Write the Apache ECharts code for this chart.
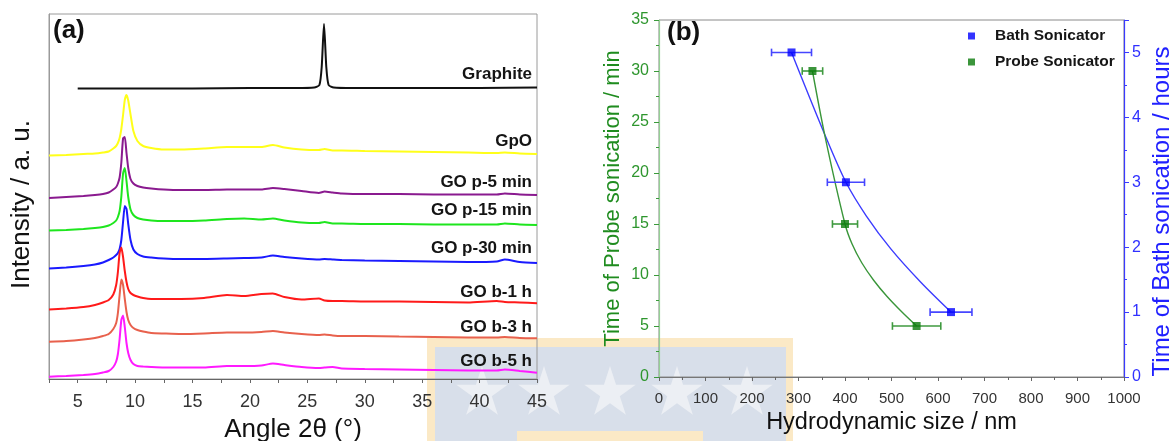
<!DOCTYPE html>
<html>
<head>
<meta charset="utf-8">
<script src="https://cdn.jsdelivr.net/npm/echarts@6/dist/echarts.min.js"></script>
<style>html,body{margin:0;padding:0;background:#fff}#c{width:1173px;height:441px}</style>
</head>
<body>
<div id="c"></div>
<script>
// ---------- Panel (a): XRD patterns (intensity in arbitrary units, stacked) ----------
const angles = [2.5, 4, 5.5, 6.5, 7.2, 7.7, 8.1, 8.35, 8.5, 8.65, 8.8, 8.95, 9.1, 9.25, 9.4, 9.6, 9.85, 10.2, 10.7, 11.4, 12.5, 14, 16, 18, 19.5, 21, 22, 23, 24.5, 26, 26.5, 27.2, 28, 30, 33, 36, 39, 41.5, 42.2, 43.5, 45];
const graphiteAngles = [5, 10, 15, 20, 24, 25.6, 26.05, 26.25, 26.45, 26.65, 26.85, 27.3, 29, 35, 40, 45];
const graphite = [290.5, 290.5, 290.5, 291, 291, 291.5, 294, 312, 355, 312, 294, 291.5, 291, 291, 291, 291.5];
const gpo  = [223.5, 224, 225, 225.5, 226.5, 227.5, 230.5, 233, 236, 241, 250, 264, 279, 284, 278.5, 264.5, 248, 238, 233, 231, 229.5, 229.5, 230.5, 232, 232, 232, 234, 231.5, 229.5, 229, 230, 228.5, 228.5, 228, 227.5, 227, 226.5, 226, 226.5, 225.5, 225];
const goP5 = [181, 182, 183, 184, 185, 186.5, 189.5, 192, 195.5, 201.5, 216.5, 240.5, 242, 226, 211, 200, 195.5, 193, 191.5, 190.5, 189.5, 189, 189, 189.5, 189.5, 189.5, 191, 190, 188, 186, 187.5, 186.5, 185.5, 185, 185, 184.5, 184.5, 184.5, 185.5, 184.5, 184];
const goP15 = [148.5, 149, 150, 151, 152, 153.5, 156, 158.5, 162, 168, 182.5, 205.5, 211, 198, 182, 169.5, 164, 161, 159.5, 158.5, 158, 158, 158.5, 160, 160.5, 159.5, 160.5, 158.5, 156.5, 156, 157, 155.5, 155.5, 155, 155, 154.5, 154.5, 154.5, 155.5, 154.5, 154];
const goP30 = [110.5, 111.5, 113, 114.5, 116.5, 119, 121.5, 124, 126, 130, 139, 157, 173, 170, 155, 139, 129.5, 125, 122.5, 121.5, 120.5, 120, 120, 120.5, 121, 121.5, 123.5, 122, 120.5, 119.5, 120, 119.5, 119, 118.5, 118, 117.5, 117, 117.5, 119.5, 117, 116];
const goB1 = [69.5, 70.5, 72, 74, 76.5, 79, 84.5, 94, 107, 126, 131.5, 122, 108, 97, 90, 86, 84, 82.5, 81, 80, 80, 80, 81, 84, 83, 85, 85.5, 82, 79.5, 80.5, 78.5, 78, 78, 77.5, 77.5, 77, 76.5, 78, 77, 76.5, 75.7];
const goB3 = [37.3, 38, 39.5, 41, 43, 45, 50, 56, 66, 84, 99.6, 94, 80, 67, 59, 54, 51, 49, 47.5, 46, 45.5, 45, 45.5, 46.5, 46.5, 47, 48, 46.5, 45, 44, 44.5, 43.5, 43, 43, 42.5, 42, 41.5, 41.5, 42, 41, 40.7];
const goB5 = [2.3, 3, 4, 5, 6.5, 8, 12, 17.5, 25, 40, 59, 63.5, 52, 36, 26, 19, 15, 13, 12.5, 12, 11.5, 11.5, 11.5, 13, 13, 13.5, 15.5, 14, 12, 11, 11.5, 12, 10.5, 10, 9.5, 9, 8.5, 8.5, 9.5, 8, 6.3];
const xrdNames = ['Graphite', 'GpO', 'GO p-5 min', 'GO p-15 min', 'GO p-30 min', 'GO b-1 h', 'GO b-3 h', 'GO b-5 h'];

// ---------- Panel (b): hydrodynamic size vs sonication time ----------
const bathSize = [285, 402, 628];
const bathHours = [5, 3, 1];
const bathErr = [43, 40, 45];
const probeSize = [330, 400, 554];
const probeMin = [30, 15, 5];
const probeErr = [22, 27, 52];
// fitted curves
const bathFitSize = [285, 358, 402, 446, 499, 563, 628];
const bathFitHours = [5, 3.71, 3, 2.48, 1.97, 1.46, 1];
const probeFitSize = [330, 357, 400, 415, 436, 462, 490, 523, 554];
const probeFitMin = [30, 23.6, 15, 13.06, 11.2, 9.46, 7.92, 6.35, 5];

// ---------- styles ----------
const FONT = 'Arial, "Liberation Sans", sans-serif';
const xrdStyle = [
  {color: '#111111', dy: -13.5},
  {color: '#ffff1a', dy: -12.5},
  {color: '#8a1a8f', dy: -13},
  {color: '#1ee61e', dy: -14.5},
  {color: '#1a1aff', dy: -15},
  {color: '#ff1a1a', dy: -10.5},
  {color: '#e8614d', dy: -11},
  {color: '#ff1aff', dy: -11}
];

const xrdData = [
  graphiteAngles.map((a, j) => [a, graphite[j]]),
  angles.map((a, j) => [a, gpo[j]]),
  angles.map((a, j) => [a, goP5[j]]),
  angles.map((a, j) => [a, goP15[j]]),
  angles.map((a, j) => [a, goP30[j]]),
  angles.map((a, j) => [a, goB1[j]]),
  angles.map((a, j) => [a, goB3[j]]),
  angles.map((a, j) => [a, goB5[j]])
];

const series = [];
xrdData.forEach((d, i) => {
  series.push({
    type: 'line', name: xrdNames[i], xAxisIndex: 0, yAxisIndex: 0,
    data: d, symbol: 'none', smooth: 0.2, silent: true, z: 3,
    lineStyle: {color: xrdStyle[i].color, width: 2}
  });
});
// curve labels, anchored at the end of each curve
series.push({
  type: 'custom', xAxisIndex: 0, yAxisIndex: 0, silent: true, z: 5,
  data: xrdData.map((d, i) => [d[d.length - 1][0], d[d.length - 1][1], i]),
  renderItem: function (params, api) {
    const i = api.value(2);
    const p = api.coord([api.value(0), api.value(1)]);
    return {type: 'text', x: p[0] - 5, y: p[1] + xrdStyle[i].dy,
      style: {text: xrdNames[i], align: 'right', verticalAlign: 'middle',
        fontSize: 17, fontWeight: 'bold', fontFamily: FONT, fill: '#141414'}};
  }
});

function errorBars(sizes, vals, errs, yIdx, color) {
  return {
    type: 'custom', xAxisIndex: 1, yAxisIndex: yIdx, silent: true, z: 4,
    data: sizes.map((s, i) => [s, vals[i], errs[i]]),
    renderItem: function (params, api) {
      const x = api.value(0), y = api.value(1), e = api.value(2);
      const a = api.coord([x - e, y]), b = api.coord([x + e, y]);
      const st = {stroke: color, lineWidth: 1.6};
      const cap = 3.8;
      return {type: 'group', children: [
        {type: 'line', shape: {x1: a[0], y1: a[1], x2: b[0], y2: b[1]}, style: st},
        {type: 'line', shape: {x1: a[0], y1: a[1] - cap, x2: a[0], y2: a[1] + cap}, style: st},
        {type: 'line', shape: {x1: b[0], y1: b[1] - cap, x2: b[0], y2: b[1] + cap}, style: st}
      ]};
    }
  };
}
series.push({
  type: 'line', name: 'Bath fit', xAxisIndex: 1, yAxisIndex: 2, symbol: 'none', smooth: 0.3, silent: true, z: 3,
  data: bathFitSize.map((s, i) => [s, bathFitHours[i]]), lineStyle: {color: '#3c3cff', width: 1.4}
});
series.push({
  type: 'line', name: 'Probe fit', xAxisIndex: 1, yAxisIndex: 1, symbol: 'none', smooth: 0.3, silent: true, z: 3,
  data: probeFitSize.map((s, i) => [s, probeFitMin[i]]), lineStyle: {color: '#3a963a', width: 1.4}
});
series.push(errorBars(bathSize, bathHours, bathErr, 2, '#4646ff'));
series.push(errorBars(probeSize, probeMin, probeErr, 1, '#3f9a3f'));
series.push({
  type: 'scatter', name: 'Bath Sonicator', xAxisIndex: 1, yAxisIndex: 2, symbol: 'rect', symbolSize: 8, z: 6,
  data: bathSize.map((s, i) => [s, bathHours[i]]), itemStyle: {color: '#0000ff'}
});
series.push({
  type: 'scatter', name: 'Probe Sonicator', xAxisIndex: 1, yAxisIndex: 1, symbol: 'rect', symbolSize: 8, z: 6,
  data: probeSize.map((s, i) => [s, probeMin[i]]), itemStyle: {color: '#0a7a0a'}
});

// faint background watermark
function star(cx, cy, R) {
  const pts = [];
  for (let k = 0; k < 10; k++) {
    const ang = -Math.PI / 2 + k * Math.PI / 5;
    const r = k % 2 === 0 ? R : R * 0.382;
    pts.push([cx + r * Math.cos(ang), cy + r * Math.sin(ang)]);
  }
  return {type: 'polygon', z: -10, silent: true, shape: {points: pts}, style: {fill: '#eceff4'}};
}
const graphic = [
  {type: 'rect', z: -12, silent: true, shape: {x: 427, y: 338, width: 366, height: 103}, style: {fill: '#fbe9c6'}},
  {type: 'rect', z: -11, silent: true, shape: {x: 435, y: 347, width: 351, height: 94}, style: {fill: '#d8dfea'}},
  {type: 'rect', z: -11, silent: true, shape: {x: 517, y: 431, width: 186, height: 10}, style: {fill: '#fbe9c6'}},
  star(482, 393, 27), star(544, 393, 27), star(610, 393, 27), star(677, 393, 27), star(747, 393, 27)
];

const chart = echarts.init(document.getElementById('c'), null, {renderer: 'canvas'});
chart.setOption({
  animation: false,
  backgroundColor: '#ffffff',
  textStyle: {fontFamily: FONT},
  graphic: graphic,
  title: [
    {text: '(a)', left: 53, top: 18, padding: 0, textStyle: {fontSize: 26, fontWeight: 'bold', color: '#111', fontFamily: FONT}},
    {text: '(b)', left: 667, top: 20, padding: 0, textStyle: {fontSize: 26, fontWeight: 'bold', color: '#111', fontFamily: FONT}}
  ],
  legend: {
    data: ['Bath Sonicator', 'Probe Sonicator'], orient: 'vertical', left: 968, top: 28,
    itemWidth: 7, itemHeight: 7, itemGap: 10, icon: 'rect', selectedMode: false, padding: 0,
    textStyle: {fontSize: 15.5, fontWeight: 'bold', color: '#151515', fontFamily: FONT, padding: [0, 0, 0, 15]}
  },
  grid: [
    {left: 49, right: 636, top: 14, bottom: 62, show: true, borderColor: '#9a9a9a', borderWidth: 1, backgroundColor: 'transparent', outerBoundsMode: 'none', containLabel: false},
    {left: 659, right: 49, top: 20, bottom: 64, show: true, borderColor: '#8a8a8a', borderWidth: 1, backgroundColor: 'transparent', outerBoundsMode: 'none', containLabel: false}
  ],
  xAxis: [
    {
      gridIndex: 0, type: 'value', min: 2.5, max: 45, interval: 2.5,
      axisLine: {show: true, lineStyle: {color: '#666', width: 1}},
      axisTick: {show: true, inside: false, length: 4, lineStyle: {color: '#666'}},
      axisLabel: {fontSize: 18, color: '#333', margin: 14, formatter: v => (v % 5 === 0 ? String(v) : '')},
      splitLine: {show: false},
      name: 'Angle 2θ (°)', nameLocation: 'middle', nameGap: 38,
      nameTextStyle: {fontSize: 26, color: '#111', fontFamily: FONT}
    },
    {
      gridIndex: 1, type: 'value', min: 0, max: 1000, interval: 100,
      axisLine: {show: true, lineStyle: {color: '#777', width: 1.2}},
      axisTick: {show: true, inside: false, length: 4, lineStyle: {color: '#666'}},
      minorTick: {show: true, splitNumber: 2, length: 3, lineStyle: {color: '#666'}},
      axisLabel: {fontSize: 15, color: '#333', margin: 14, formatter: v => String(v)},
      splitLine: {show: false},
      name: 'Hydrodynamic size / nm', nameLocation: 'middle', nameGap: 31,
      nameTextStyle: {fontSize: 23.5, color: '#111', fontFamily: FONT}
    }
  ],
  yAxis: [
    {
      gridIndex: 0, type: 'value', min: 0, max: 365,
      axisLine: {show: true, lineStyle: {color: '#9a9a9a'}},
      axisTick: {show: false}, axisLabel: {show: false}, splitLine: {show: false},
      name: 'Intensity / a. u.', nameLocation: 'middle', nameGap: 14, nameRotate: 90,
      nameTextStyle: {fontSize: 26, color: '#111', fontFamily: FONT, padding: [0, 16, 0, 0]}
    },
    {
      gridIndex: 1, type: 'value', position: 'left', min: 0, max: 35, interval: 5,
      axisLine: {show: true, lineStyle: {color: '#95d095', width: 1.2}},
      axisTick: {show: true, inside: false, length: 5, lineStyle: {color: '#3a9a3a'}},
      minorTick: {show: true, splitNumber: 2, length: 3, lineStyle: {color: '#3a9a3a'}},
      axisLabel: {fontSize: 16, color: '#2e962e', margin: 10},
      splitLine: {show: false},
      name: 'Time of Probe sonication / min', nameLocation: 'middle', nameGap: 35, nameRotate: 90,
      nameTextStyle: {fontSize: 22, color: '#1f8c1f', fontFamily: FONT}
    },
    {
      gridIndex: 1, type: 'value', position: 'right', min: 0, max: 5.5, interval: 1,
      axisLine: {show: true, lineStyle: {color: '#3a3aff', width: 1.2}},
      axisTick: {show: true, inside: false, length: 5, lineStyle: {color: '#3a3aff'}},
      minorTick: {show: true, splitNumber: 2, length: 3, lineStyle: {color: '#3a3aff'}},
      axisLabel: {fontSize: 16, color: '#3030ff', margin: 8, showMaxLabel: false, formatter: v => (Number.isInteger(v) ? String(v) : '')},
      splitLine: {show: false},
      name: 'Time of Bath sonication / hours', nameLocation: 'middle', nameGap: 26, nameRotate: 90,
      nameTextStyle: {fontSize: 24, color: '#2020ff', fontFamily: FONT, padding: [0, 26, 0, 0]}
    }
  ],
  series: series
});
</script>
</body>
</html>
